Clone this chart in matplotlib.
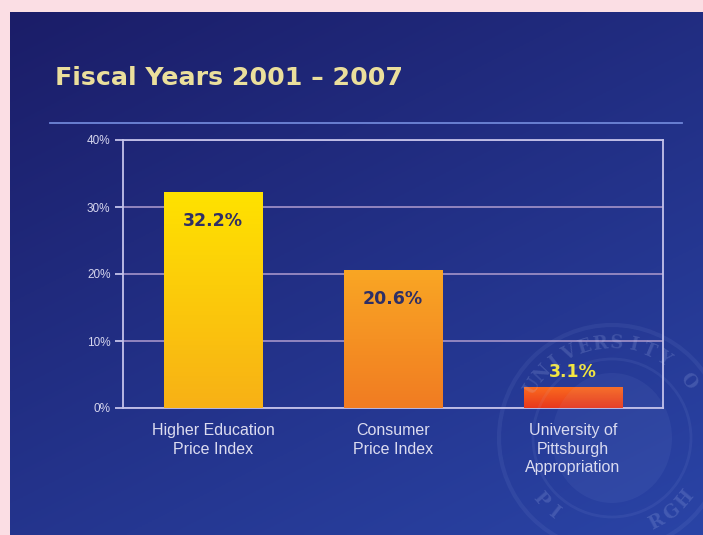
import numpy as np
import matplotlib
matplotlib.use("Agg")
import matplotlib.pyplot as plt
from matplotlib.colors import LinearSegmentedColormap
from matplotlib.patches import Ellipse
from matplotlib.lines import Line2D

# ---- data ----
categories = ["Higher Education\nPrice Index", "Consumer\nPrice Index",
              "University of\nPittsburgh\nAppropriation"]
values = [32.2, 20.6, 3.1]
value_labels = ["32.2%", "20.6%", "3.1%"]
yticks = [0, 10, 20, 30, 40]
ytick_labels = ["0%", "10%", "20%", "30%", "40%"]
title = "Fiscal Years 2001 \u2013 2007"
seal_top = "UNIVERSITY OF"
seal_bottom = "PITTSBURGH"

W, H = 703, 535
fig = plt.figure(figsize=(W / 100, H / 100), dpi=100)
fig.patch.set_facecolor("#fbdee4")

def fx(px):
    return px / W

def fy(py):
    return 1 - py / H

# slide panel with gradient
px0, py0 = 10, 12
bg = fig.add_axes([px0 / W, 0, 1 - px0 / W, 1 - py0 / H])
bg.set_axis_off()
yy, xx = np.mgrid[0:1:200j, 0:1:200j]
t = np.clip(0.6 * yy + 0.4 * xx, 0, 1)
c0 = np.array([0x1b, 0x1d, 0x68]) / 255
c1 = np.array([0x2a, 0x44, 0xa6]) / 255
img = c0[None, None, :] * (1 - t[..., None]) + c1[None, None, :] * t[..., None]
bg.imshow(img, extent=(0, 1, 0, 1), origin="upper", aspect="auto")
bg.set_xlim(0, 1)
bg.set_ylim(0, 1)

# faint seal watermark
scx, scy, r = 612, 438, 95
fig.add_artist(Ellipse((fx(scx), fy(scy)), 2 * (r + 18) / W, 2 * (r + 18) / H, fill=False,
                       ec=(0.72, 0.80, 1.0, 0.07), lw=3, transform=fig.transFigure))
fig.add_artist(Ellipse((fx(scx), fy(scy)), 2 * (r - 16) / W, 2 * (r - 16) / H, fill=False,
                       ec=(0.72, 0.80, 1.0, 0.07), lw=2, transform=fig.transFigure))
fig.add_artist(Ellipse((fx(scx), fy(scy)), 120 / W, 130 / H, fill=True,
                       fc=(0.72, 0.80, 1.0, 0.06), ec="none", transform=fig.transFigure))
seal_txt = (0.78, 0.84, 1.0, 0.17)
for ch, a in zip(seal_top, np.linspace(147, 27, len(seal_top))):
    ar = np.radians(a)
    px, py = scx + r * np.cos(ar), scy - r * np.sin(ar)
    if ch != " " and px < 692:
        fig.text(fx(px), fy(py), ch, color=seal_txt, fontsize=13, fontweight="bold",
                 ha="center", va="center", rotation=a - 90, family="DejaVu Serif")
for ch, a in zip(seal_bottom, np.linspace(-139, -40, len(seal_bottom))):
    ar = np.radians(a)
    px, py = scx + r * np.cos(ar), scy - r * np.sin(ar)
    if py < 522 and px < 692:
        fig.text(fx(px), fy(py), ch, color=seal_txt, fontsize=13, fontweight="bold",
                 ha="center", va="center", rotation=a + 90, family="DejaVu Serif")

# title and rule
fig.text(fx(55), fy(85), title, fontsize=18.2, fontweight="bold",
         color="#ebdf9c", family="DejaVu Sans", ha="left", va="baseline")
fig.add_artist(Line2D([fx(50), fx(682)], [fy(123), fy(123)], color="#6f86d8", lw=1.3))

# chart axes
ax_l, ax_r, ax_t, ax_b = 123, 663, 140, 408
ax = fig.add_axes([ax_l / W, 1 - ax_b / H, (ax_r - ax_l) / W, (ax_b - ax_t) / H])
ax.patch.set_alpha(0)
x = np.arange(len(categories))
ax.set_yticks(yticks)
ax.set_yticklabels(ytick_labels)
ax.set_xticks(x)
ax.set_xticklabels(categories, linespacing=1.3)
frame_c = "#c4c2ea"
for s in ax.spines.values():
    s.set_color(frame_c)
    s.set_linewidth(1.3)
ax.tick_params(axis="y", colors=frame_c, length=6, width=1.3, pad=3,
               labelcolor="#d6d6ee", labelsize=8.5)
ax.tick_params(axis="x", length=0, pad=11, labelcolor="#dcdcf0", labelsize=11.5)
for lab in ax.get_yticklabels() + ax.get_xticklabels():
    lab.set_family("Liberation Sans")
ax.yaxis.grid(True, color="#9a8cc4", lw=1.3)
ax.set_axisbelow(True)

grads = [("#ffe200", "#f8b116"), ("#f9a624", "#f17c22"), ("#fa6a1e", "#e8381e")]
bars = ax.bar(x, values, width=0.55, color="none", edgecolor="none", zorder=3)
for b, (ctop, cbot) in zip(bars, grads):
    cmap = LinearSegmentedColormap.from_list("g", [cbot, ctop])
    x0 = b.get_x()
    w = b.get_width()
    h = b.get_height()
    grad = np.linspace(0, 1, 100).reshape(-1, 1)
    im = ax.imshow(grad, extent=(x0, x0 + w, 0, h), origin="lower", aspect="auto",
                   cmap=cmap, zorder=3)
    im.set_clip_path(b)
ax.set_xlim(-0.5, len(categories) - 0.5)
ax.set_ylim(0, 40)

for i, (v, lab) in enumerate(zip(values, value_labels)):
    if v > 10:
        ax.text(i, v - 3.0, lab, ha="center", va="top", fontsize=12.5,
                fontweight="bold", color="#2e2f66", zorder=5)
    else:
        ax.text(i, v + 0.9, lab, ha="center", va="bottom", fontsize=12.5,
                fontweight="bold", color="#f2e640", zorder=5)

fig.savefig("out.png", dpi=100, facecolor=fig.get_facecolor())
